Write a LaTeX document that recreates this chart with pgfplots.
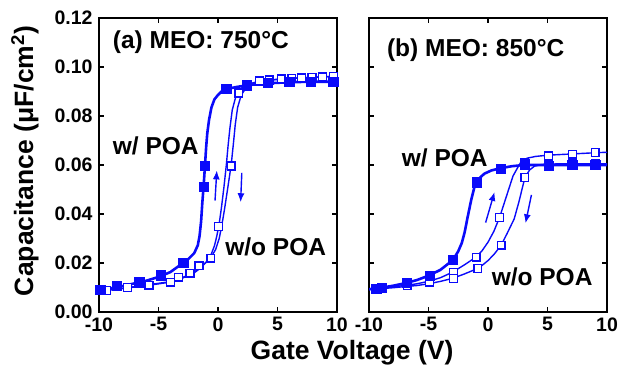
\documentclass[border=0pt]{standalone}
\usepackage{pgfplots}
\pgfplotsset{compat=1.18}
\usepackage{fontspec}
\setmainfont{Liberation Sans}
\usetikzlibrary{arrows.meta}
\definecolor{cblue}{RGB}{10,10,250}

\pgfplotstableread{
x y
-10 0.0088
-9 0.0097
-8 0.0106
-7 0.0117
-6 0.0128
-5 0.0143
-4 0.0163
-3 0.0198
-2.5 0.0216
-2.0 0.0240
-1.7 0.0272
-1.55 0.0310
-1.42 0.0370
-1.32 0.0444
-1.2 0.0520
-1.1 0.0593
-1.0 0.0670
-0.9 0.0730
-0.75 0.0785
-0.55 0.0835
-0.3 0.0868
0 0.0886
0.3 0.0900
0.7 0.0910
1.5 0.0918
2.5 0.0926
4 0.0933
6 0.0938
8 0.0940
10 0.0940
}\aWline
\pgfplotstableread{
x y
-9.9 0.0090
-8.5 0.0106
-6.6 0.0122
-4.8 0.0150
-2.9 0.0202
-1.2 0.0512
-1.1 0.0596
0.7 0.0910
2.4 0.0927
4.2 0.0935
6.0 0.0940
7.8 0.0940
9.7 0.0940
}\aWmark
\pgfplotstableread{
x y
-10 0.0085
-8 0.0096
-6 0.0108
-4 0.0122
-3 0.0138
-2 0.0160
-1.5 0.0178
-1 0.0203
-0.6 0.0232
-0.3 0.0270
-0.1 0.0310
0.1 0.0360
0.3 0.0430
0.5 0.0510
0.7 0.0600
0.85 0.0680
1.0 0.0750
1.2 0.0825
1.5 0.0880
1.9 0.0912
2.5 0.0930
3.5 0.0942
5 0.0950
7 0.0956
10 0.0962
}\aNAline
\pgfplotstableread{
x y
-10 0.0085
-8 0.0097
-6 0.0110
-4 0.0124
-3 0.0140
-2 0.0163
-1.5 0.0182
-1 0.0203
-0.6 0.0222
-0.2 0.0255
0.1 0.0300
0.3 0.0348
0.55 0.0420
0.8 0.0500
1.0 0.0565
1.15 0.0620
1.3 0.0690
1.45 0.0765
1.65 0.0835
1.95 0.0885
2.4 0.0918
3.0 0.0935
4 0.0945
6 0.0953
8 0.0958
10 0.0963
}\aNBline
\pgfplotstableread{
x y
-9.35 0.0087
-5.8 0.0110
-3.3 0.0142
-1.6 0.0188
0.05 0.0348
1.75 0.0894
3.5 0.0943
5.3 0.0951
7.0 0.0955
8.8 0.0960
}\aNAmark
\pgfplotstableread{
x y
-7.6 0.0101
-4.0 0.0122
-2.35 0.0159
-0.6 0.0220
1.1 0.0596
2.5 0.0920
4.3 0.0947
6.2 0.0953
7.9 0.0957
9.7 0.0963
}\aNBmark

\pgfplotstableread{
x y
-10 0.0093
-9 0.0099
-8 0.0107
-7 0.0117
-6 0.0130
-5 0.0148
-4 0.0172
-2.95 0.0212
-2.5 0.0248
-2.2 0.0282
-1.97 0.0324
-1.7 0.0390
-1.4 0.0460
-1.13 0.0512
-0.9 0.0533
-0.6 0.0552
-0.29 0.0565
0.3 0.0578
1.05 0.0587
2 0.0595
3 0.0600
10 0.0600
}\bWline
\pgfplotstableread{
x y
-9.4 0.0095
-8.9 0.0099
-6.8 0.0119
-4.9 0.0149
-2.95 0.0213
-0.95 0.0529
1.05 0.0585
3.1 0.0603
5.1 0.0596
7.1 0.0600
9.0 0.0600
}\bWmark
\pgfplotstableread{
x y
-10 0.0092
-8 0.0102
-6 0.0115
-5 0.0125
-4 0.0140
-3 0.0162
-2 0.0192
-1.5 0.0208
-1 0.0224
-0.5 0.0250
0 0.0285
0.5 0.0330
1.0 0.0390
1.4 0.0450
1.8 0.0510
2.1 0.0555
2.5 0.0590
2.8 0.0615
3.3 0.0628
4 0.0635
5 0.0640
7 0.0645
9 0.0650
10 0.0652
}\bNAline
\pgfplotstableread{
x y
-10 0.0092
-8 0.0099
-6 0.0108
-5 0.0115
-4 0.0125
-3 0.0137
-2 0.0155
-1 0.0175
-0.5 0.0190
0 0.0210
0.5 0.0235
1.1 0.0272
1.6 0.0320
2.2 0.0380
2.6 0.0450
3.1 0.0549
3.5 0.0580
3.9 0.0595
4.5 0.0602
6 0.0605
10 0.0605
}\bNBline
\pgfplotstableread{
x y
-6.8 0.0108
-4.9 0.0135
-2.9 0.0163
-0.99 0.0224
0.96 0.0385
3.1 0.0610
5.1 0.0637
7.1 0.0644
9.0 0.0651
}\bNAmark
\pgfplotstableread{
x y
-8.9 0.0095
-4.9 0.0122
-2.9 0.0136
-0.85 0.0178
1.1 0.0273
3.1 0.0549
5.1 0.0603
7.1 0.0604
9.0 0.0605
}\bNBmark

\pgfplotsset{
  panel/.style={
    scale only axis, width=238pt, height=294pt,
    xmin=-10, xmax=10, ymin=0, ymax=0.12,
    xtick={-10,-5,0,5,10}, xticklabels={-10,-5,0,5,10},
    ytick={0,0.02,0.04,0.06,0.08,0.1,0.12},
    tick align=inside, major tick length=5pt,
    xtick pos=both, ytick pos=both,
    tick style={line width=1.6pt, black},
    axis line style={line width=2.3pt},
    ticklabel style={font=\fontsize{19.5}{20}\selectfont\bfseries},
    xticklabel style={yshift=-2pt},
    yticklabel style={xshift=-3pt},
    minor tick num=0,
  },
  wline/.style={cblue, line width=2.6pt, no marks},
  nline/.style={cblue, line width=1.4pt, no marks},
  wmark/.style={only marks, mark=square*, mark size=4.7pt, mark options={fill=cblue, draw=cblue, line width=0.6pt}},
  nmark/.style={only marks, mark=square*, mark size=3.9pt, mark options={fill=white, draw=cblue, line width=1.3pt}},
}
\tikzset{
  ann/.style={anchor=west, inner sep=0pt, font=\fontsize{24.5}{26}\selectfont\bfseries},
  arr/.style={cblue, line width=1.4pt, -{Latex[length=9pt,width=7pt]}},
}

\begin{document}
\begin{tikzpicture}
\path[use as bounding box] (-99pt,-64pt) rectangle (521pt,312pt);
\begin{axis}[panel, at={(0pt,0pt)}, anchor=south west,
  yticklabels={0.00,0.02,0.04,0.06,0.08,0.10,0.12}]
\addplot[nline] table {\aNAline};
\addplot[nline] table {\aNBline};
\addplot[wline] table {\aWline};
\addplot[nmark] table {\aNAmark};
\addplot[nmark] table {\aNBmark};
\addplot[wmark] table {\aWmark};
\draw[arr] (axis cs:-0.25,0.0455) -- (axis cs:-0.1,0.0578);
\draw[arr] (axis cs:2.0,0.0568) -- (axis cs:1.9,0.0448);
\node[ann] at (axis cs:-8.85,0.110) {(a) MEO: 750°C};
\node[ann] at (axis cs:-8.85,0.068) {w/ POA};
\node[ann] at (axis cs:0.6,0.0265) {w/o POA};
\end{axis}
\begin{axis}[panel, at={(270pt,0pt)}, anchor=south west,
  yticklabels={}]
\addplot[nline] table {\bNAline};
\addplot[nline] table {\bNBline};
\addplot[wline] table {\bWline};
\addplot[nmark] table {\bNAmark};
\addplot[nmark] table {\bNBmark};
\addplot[wmark] table {\bWmark};
\draw[arr] (axis cs:-0.2,0.0365) -- (axis cs:0.55,0.0490);
\draw[arr] (axis cs:3.65,0.0478) -- (axis cs:3.15,0.0362);
\node[ann] at (axis cs:-8.5,0.107) {(b) MEO: 850°C};
\node[ann] at (axis cs:-7.25,0.063) {w/ POA};
\node[ann] at (axis cs:0.3,0.0145) {w/o POA};
\end{axis}
\node[rotate=90, font=\fontsize{26.5}{28}\selectfont\bfseries] at (-74pt,151pt) {Capacitance (μF/cm\textsuperscript{2})};
\node[font=\fontsize{26.5}{28}\selectfont\bfseries] at (253pt,-41pt) {Gate Voltage (V)};
\end{tikzpicture}
\end{document}
